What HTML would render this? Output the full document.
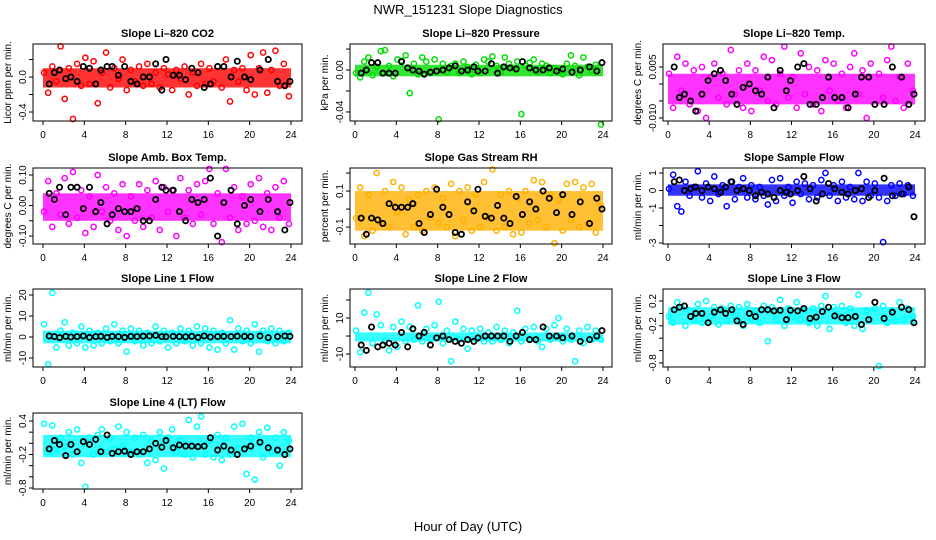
<!DOCTYPE html>
<html><head><meta charset="utf-8"><style>
body{margin:0;background:#fff;}
svg{display:block;font-family:"Liberation Sans",Arial,sans-serif;}
</style></head><body>
<svg id="c" width="936" height="540" viewBox="0 0 936 540">
<text x="468" y="14" text-anchor="middle" font-size="13">NWR_151231  Slope Diagnostics</text>
<text x="468" y="531" text-anchor="middle" font-size="13">Hour of Day (UTC)</text>
</svg>
<script>
const hoursColored=[0.1,0.5,0.9,1.3,1.7,2.1,2.5,2.9,3.3,3.7,4.1,4.5,4.9,5.3,5.7,6.1,6.5,6.9,7.3,7.7,8.1,8.5,8.9,9.3,9.7,10.1,10.5,10.9,11.3,11.7,12.1,12.5,12.9,13.3,13.7,14.1,14.5,14.9,15.3,15.7,16.1,16.5,16.9,17.3,17.7,18.1,18.5,18.9,19.3,19.7,20.1,20.5,20.9,21.3,21.7,22.1,22.5,22.9,23.3,23.8];
const hoursBlack=[0.6,1.1,1.6,2.2,2.7,3.3,3.9,4.5,5.1,5.6,6.2,6.7,7.3,7.9,8.5,9.1,9.7,10.3,10.9,11.5,11.9,12.6,13.2,13.8,14.4,15.0,15.6,16.2,16.9,17.5,18.2,18.8,19.5,20.1,21.0,21.8,22.7,23.4,23.9];
const xTicks=[0,4,8,12,16,20,24];

const co2Vals=[0.05,-0.18,0.12,-0.05,0.35,-0.25,0.1,-0.48,0.15,-0.1,0.22,-0.08,0.18,-0.3,0.05,0.28,-0.12,0.1,-0.02,0.2,-0.15,0.08,-0.05,0.12,-0.1,0.15,-0.08,0.05,-0.12,0.1,0.03,-0.15,0.08,-0.02,0.12,-0.2,0.05,-0.1,0.15,-0.08,0.1,-0.05,0.12,-0.12,0.2,-0.28,0.08,-0.05,0.1,-0.15,0.25,-0.2,0.1,0.28,-0.18,0.08,0.3,-0.1,0.15,-0.22];
const co2Black=[-0.08,0.05,0.08,-0.02,0.0,-0.05,0.12,0.1,-0.08,0.08,0.12,0.12,0.02,0.12,-0.05,-0.08,0.0,0.0,0.15,-0.15,0.2,0.02,0.02,-0.03,0.1,0.05,-0.12,-0.08,0.12,0.12,0.0,0.18,0.0,-0.03,0.08,0.2,-0.05,-0.1,-0.05];
const presVals=[-0.003,-0.007,0.008,0.012,-0.005,0.003,0.018,0.019,0.004,-0.006,0.01,0.009,0.014,-0.022,0.006,-0.004,0.012,0.008,-0.003,0.01,-0.047,0.006,-0.002,0.004,0.006,-0.003,0.008,0.003,-0.004,0.005,-0.003,0.01,0.008,0.013,0.004,-0.002,0.012,0.006,0.002,0.008,-0.042,0.004,0.007,0.01,-0.002,0.006,0.004,-0.003,0.002,-0.002,-0.004,0.006,0.014,0.004,-0.005,0.012,0.003,-0.001,0.005,-0.052];
const presBlack=[-0.003,0.0,0.007,0.007,-0.003,-0.003,-0.003,0.008,0.002,0.0,-0.001,-0.004,-0.002,-0.001,0.0,0.002,0.004,-0.001,0.0,0.003,-0.001,-0.001,0.006,-0.003,0.003,0.002,0.001,0.008,0.002,0.0,0.0,0.002,-0.001,0.001,-0.002,0.0,0.003,-0.001,0.007];
const tempVals=[0.003,-0.007,0.008,-0.002,0.006,-0.006,0.004,-0.008,0.005,-0.01,0.002,0.006,-0.004,0.003,-0.006,0.01,-0.003,0.004,-0.007,0.006,-0.008,0.004,-0.002,0.008,-0.005,0.007,-0.006,0.003,0.011,-0.004,0.002,-0.007,0.009,-0.003,0.005,-0.006,0.004,-0.008,0.007,-0.002,0.006,-0.005,0.003,-0.007,0.005,0.009,-0.003,0.004,-0.01,0.006,-0.006,0.003,-0.004,0.007,0.011,-0.005,0.002,-0.007,0.006,-0.002];
const tempBlack=[0.005,-0.004,-0.003,-0.005,-0.008,-0.003,0.001,0.003,0.004,0.001,-0.003,-0.006,-0.001,0.0,-0.002,-0.003,0.002,-0.007,0.004,-0.002,0.001,0.005,0.006,-0.006,-0.006,-0.004,0.002,-0.004,-0.004,-0.007,-0.003,0.002,0.002,-0.006,-0.006,0.005,0.002,-0.006,-0.003];
const ambVals=[-0.02,0.08,-0.07,0.04,-0.03,0.09,-0.06,0.11,-0.04,0.05,-0.09,0.03,-0.07,0.1,-0.02,0.06,-0.05,0.04,-0.08,0.07,-0.1,0.03,-0.05,0.07,-0.07,0.05,-0.04,0.08,-0.08,0.06,-0.02,0.05,-0.1,0.09,-0.04,0.05,-0.06,0.07,-0.03,0.08,0.12,-0.06,0.04,-0.12,0.12,-0.04,0.06,-0.08,0.03,-0.06,0.07,-0.05,0.09,-0.07,0.04,-0.08,0.06,-0.04,0.08,-0.06];
const ambBlack=[0.04,0.02,0.06,-0.03,0.06,0.06,-0.01,0.06,-0.02,0.01,-0.06,-0.03,-0.01,-0.02,-0.02,-0.01,-0.05,-0.05,0.02,0.06,0.05,0.05,-0.02,-0.05,0.02,0.01,0.02,0.09,-0.1,0.01,0.05,-0.06,0.0,0.02,-0.02,0.02,-0.02,-0.08,0.01];
const rhVals=[-0.05,0.12,-0.15,0.08,-0.12,0.2,-0.08,0.1,-0.1,0.15,-0.02,0.12,-0.14,0.05,-0.1,0.08,-0.12,0.1,-0.05,0.12,-0.08,0.06,-0.1,0.14,-0.15,0.1,-0.06,0.12,-0.12,0.08,-0.1,0.15,-0.05,0.22,-0.12,0.08,-0.1,0.1,-0.14,0.06,-0.13,0.1,-0.08,0.16,-0.06,0.15,-0.1,0.08,-0.19,0.05,-0.12,0.14,-0.06,0.15,-0.1,0.12,-0.08,0.14,-0.13,0.02];
const rhBlack=[-0.05,-0.14,-0.05,-0.06,-0.08,0.03,0.01,0.01,0.01,0.03,-0.08,-0.13,-0.03,0.11,0.01,-0.03,-0.13,-0.14,0.04,-0.01,0.11,-0.04,-0.05,0.02,-0.05,-0.08,0.07,-0.03,0.04,0.0,0.1,0.06,-0.02,0.08,-0.03,0.04,-0.08,0.06,0.0];
const sampleVals=[0.1,0.9,-0.9,-1.2,0.5,-0.3,0.2,1.1,-0.4,0.4,-0.6,0.8,-0.2,0.3,-0.9,0.5,-0.5,0.2,0.7,-0.4,0.3,-0.5,0.2,-0.3,-0.8,0.6,-0.6,0.7,-0.3,0.2,-0.7,0.5,-0.2,0.4,-0.5,0.3,-0.4,0.6,1.0,-0.3,0.3,-0.6,0.5,-0.4,0.2,-0.5,1.0,-0.6,0.5,-0.3,0.4,-0.4,-2.95,-0.6,0.3,-0.3,0.4,-0.2,0.3,-0.3];
const sampleBlack=[0.5,0.6,0.0,0.1,0.2,0.0,0.2,0.1,-0.1,0.2,0.5,0.0,0.1,0.0,-0.3,-0.1,-0.2,-0.4,0.0,-0.1,-0.2,0.0,0.8,0.1,-0.6,-0.2,0.4,0.1,-0.1,-0.2,0.0,0.1,-0.4,0.0,0.7,-0.3,-0.2,0.2,-1.5];
const line1Vals=[6,-13,21,-5,3,7,-4,2,-3,5,-5,3,-4,2,-3,4,-2,6,-3,3,-7,4,-2,3,-4,2,-3,5,-2,3,-5,2,-3,4,-2,3,-4,5,-3,4,-5,3,-6,2,-3,8,-6,4,-2,3,-3,6,-7,3,-2,4,-3,3,-2,2];
const line1Black=[0.5,0.2,-0.3,0.3,0,0.2,0.5,-0.2,0.2,0.3,-0.2,0.3,0.2,-0.2,0.3,0.2,0.4,0.5,0.8,0.2,0.1,0.3,0.2,0.1,0.3,-0.2,0.5,0,0.2,0.3,0.2,0.4,0.3,0.2,0.5,-0.3,0.2,0.5,0.3];
const line2Vals=[3,-9,13,24,-4,12,6,-3,-8,5,-6,8,-3,5,-2,17,-3,4,-2,6,19,-4,3,-14,8,-2,4,-7,3,-2,4,-3,2,-3,5,-2,3,-4,2,14,-3,4,-2,5,-3,-6,4,-2,6,10,-3,4,-2,-14,3,-4,5,-2,3,-2];
const line2Black=[-5,-8,5,-6,-5,-4,-5,2,-6,4,0,2,-5,-1,0,-2,-3,-4,-2,-3,-1,0,0,0,0,-3,0,2,-2,-2,5,0,0,-1,0,-3,-2,0,3];
const line3Vals=[-0.05,-0.15,0.18,0.1,-0.2,0.05,-0.1,0.15,-0.15,0.2,-0.05,0.1,-0.18,0.08,-0.12,0.12,-0.05,0.1,-0.2,0.15,-0.08,0.05,-0.15,0.12,-0.45,0.1,-0.1,0.22,-0.2,0.08,-0.05,0.18,-0.1,0.05,-0.15,0.08,-0.2,0.12,0.28,-0.25,0.1,-0.05,0.12,-0.15,0.08,-0.2,0.3,-0.25,0.05,-0.1,0.08,-0.85,0.12,-0.15,0.05,-0.12,0.18,-0.1,0.08,-0.05];
const line3Black=[0.06,0.1,0.12,-0.05,0.0,0.0,-0.15,0.02,0.06,0.0,0.06,-0.12,-0.18,0.0,-0.05,0.06,0.06,0.04,0.05,-0.1,0.05,0.04,0.08,-0.08,-0.06,0.03,0.1,-0.04,-0.07,-0.07,-0.05,-0.18,-0.1,0.18,-0.08,0.02,0.1,0.06,-0.15];
const line4Vals=[0.35,-0.15,0.32,-0.1,0.1,-0.05,0.2,-0.2,0.25,-0.35,-0.78,0.1,-0.2,0.15,0.25,-0.15,0.1,-0.1,0.3,-0.05,0.2,-0.15,0.1,-0.2,0.15,-0.35,0.05,-0.3,0.2,-0.45,0.1,0.25,-0.15,0.05,-0.2,0.42,-0.25,0.3,0.48,-0.2,0.05,-0.25,0.15,-0.3,0.1,-0.2,0.3,-0.1,0.35,-0.55,0.1,-0.65,0.2,-0.25,0.28,-0.15,0.1,-0.4,0.2,0.05];
const line4Black=[-0.1,0.05,-0.02,-0.22,-0.02,-0.15,0.03,-0.02,0.07,-0.15,0.15,-0.18,-0.15,-0.14,-0.2,-0.15,-0.15,-0.1,0.0,-0.07,0.05,-0.08,-0.03,-0.05,-0.05,-0.06,-0.05,0.1,-0.12,-0.05,-0.12,-0.2,-0.1,-0.05,0.02,-0.08,-0.12,-0.2,-0.1];

const co2Band=[-0.12,0.1], presBand=[-0.006,0.005], tempBand=[-0.006,0.003], ambBand=[-0.05,0.04], rhBand=[-0.12,0.1], sampleBand=[-0.3,0.35], line1Band=[-3,3], line2Band=[-3,2], line3Band=[-0.18,0.1], line4Band=[-0.25,0.15];

const cols=[{l:33,r:302,x0:43,x1:291},{l:350,r:612,x0:355,x1:603},{l:663,r:925,x0:668,x1:915}];
const rows=[{t:44,b:121},{t:168,b:244},{t:289,b:367},{t:413,b:489}];
const panels=[
 {name:'co2',title:'Slope Li–820 CO2',ylab:'Licor ppm per min.',c:0,r:0,col:'#ff0000',dom:[-0.503,0.377],ticks:[-0.4,-0.2,0,0.2],labs:['-0.4','','0.0',''],v:co2Vals,b:co2Black,band:co2Band},
 {name:'pressure',title:'Slope Li–820 Pressure',ylab:'kPa per min.',c:1,r:0,col:'#00dd00',dom:[-0.0486,0.0248],ticks:[-0.04,-0.02,0,0.02],labs:['-0.04','','0.00',''],v:presVals,b:presBlack,band:presBand},
 {name:'temp',title:'Slope Li–820 Temp.',ylab:'degrees C per min.',c:2,r:0,col:'#ff00ff',dom:[-0.0109,0.01176],ticks:[-0.01,-0.005,0,0.005],labs:['-0.010','','','0.005'],v:tempVals,b:tempBlack,band:tempBand},
 {name:'amb-temp',title:'Slope Amb. Box Temp.',ylab:'degrees C per min.',c:0,r:1,col:'#ff00ff',dom:[-0.126,0.123],ticks:[-0.1,-0.05,0,0.05,0.1],labs:['-0.10','','0.00','','0.10'],v:ambVals,b:ambBlack,band:ambBand},
 {name:'rh',title:'Slope Gas Stream RH',ylab:'percent per min.',c:1,r:1,col:'#ffb000',dom:[-0.194,0.228],ticks:[-0.1,0,0.1,0.2],labs:['-0.1','','0.1',''],v:rhVals,b:rhBlack,band:rhBand},
 {name:'sample-flow',title:'Slope Sample Flow',ylab:'ml/min per min.',c:2,r:1,col:'#0000ff',dom:[-3.057,1.286],ticks:[-3,-2,-1,0,1],labs:['-3','','-1','0','1'],v:sampleVals,b:sampleBlack,band:sampleBand},
 {name:'line1-flow',title:'Slope Line 1 Flow',ylab:'ml/min per min.',c:0,r:2,col:'#00ffff',dom:[-14.29,22.86],ticks:[-10,0,10,20],labs:['-10','0','10','20'],v:line1Vals,b:line1Black,band:line1Band},
 {name:'line2-flow',title:'Slope Line 2 Flow',ylab:'ml/min per min.',c:1,r:2,col:'#00ffff',dom:[-17.2,26.1],ticks:[-10,0,10,20],labs:['-10','','10',''],v:line2Vals,b:line2Black,band:line2Band},
 {name:'line3-flow',title:'Slope Line 3 Flow',ylab:'ml/min per min.',c:2,r:2,col:'#00ffff',dom:[-0.865,0.394],ticks:[-0.8,-0.6,-0.4,-0.2,0,0.2],labs:['-0.8','','','-0.2','','0.2'],v:line3Vals,b:line3Black,band:line3Band},
 {name:'line4-flow',title:'Slope Line 4 (LT) Flow',ylab:'ml/min per min.',c:0,r:3,col:'#00ffff',dom:[-0.818,0.543],ticks:[-0.8,-0.6,-0.4,-0.2,0,0.2,0.4],labs:['-0.8','','','-0.2','','','0.4'],v:line4Vals,b:line4Black,band:line4Band}
];
const svg=document.getElementById('c');
const NS='http://www.w3.org/2000/svg';
function mk(tag,attrs,parent){const e=document.createElementNS(NS,tag);for(const k in attrs)e.setAttribute(k,attrs[k]);parent.appendChild(e);return e;}
panels.forEach(p=>{
 const C=cols[p.c],R=rows[p.r];
 const xs=h=>C.x0+(C.x1-C.x0)*h/24;
 const ys=v=>R.b-(R.b-R.t)*(v-p.dom[0])/(p.dom[1]-p.dom[0]);
 const g=mk('g',{},svg);
 
 
 const t=mk('text',{x:(C.l+C.r)/2,y:R.t-7,'text-anchor':'middle','font-size':11,'font-weight':'bold'},g);
 t.textContent=p.title;
 
 
 const band=mk('rect',{x:xs(0),y:ys(p.band[1]),width:xs(24)-xs(0),height:ys(p.band[0])-ys(p.band[1]),fill:p.col,'fill-opacity':0.8},g);
 
 
 const n=Math.min(p.v.length,hoursColored.length);
 for(let i=0;i<n;i++){
  const c=mk('circle',{cx:xs(hoursColored[i]),cy:ys(p.v[i]),r:2.6,fill:'none',stroke:p.col,'stroke-width':1.5},g);
  
  
 }
 const m=Math.min(p.b.length,hoursBlack.length);
 for(let i=0;i<m;i++){
  const c=mk('circle',{cx:xs(hoursBlack[i]),cy:ys(p.b[i]),r:2.6,fill:'none',stroke:'#000','stroke-width':1.8},g);
  
  
 }
 const box=mk('rect',{x:C.l,y:R.t,width:C.r-C.l,height:R.b-R.t,fill:'none',stroke:'#000','stroke-width':1},g);
 
 
 xTicks.forEach(h=>{
  mk('line',{x1:xs(h),x2:xs(h),y1:R.b,y2:R.b+4,stroke:'#000'},g);
  const tl=mk('text',{x:xs(h),y:R.b+17,'text-anchor':'middle','font-size':10},g);
  tl.textContent=h;
  
  
 });
 p.ticks.forEach((v,i)=>{
  const y=ys(v);
  mk('line',{x1:C.l-4,x2:C.l,y1:y,y2:y,stroke:'#000'},g);
  if(p.labs[i]){
   const tl=mk('text',{x:C.l-7,y:y,'text-anchor':'middle','font-size':10,transform:`rotate(-90 ${C.l-7} ${y})`},g);
   tl.textContent=p.labs[i];
   
   
  }
 });
 const yx=C.l-22,yy=(R.t+R.b)/2;
 const yl=mk('text',{x:yx,y:yy,'text-anchor':'middle','font-size':10,transform:`rotate(-90 ${yx} ${yy})`},g);
 yl.textContent=p.ylab;
 
 
});
</script>
</body></html>
